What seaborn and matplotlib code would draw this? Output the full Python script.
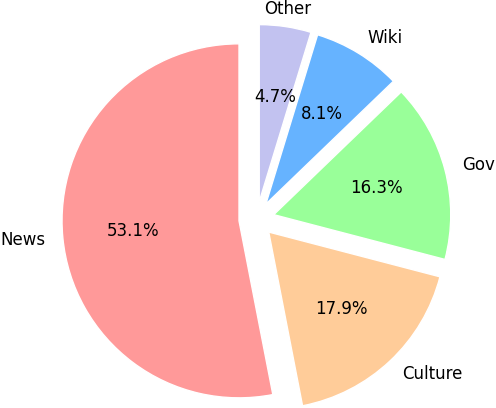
import matplotlib
matplotlib.use("Agg")
import matplotlib.pyplot as plt
import seaborn as sns

# slice data (percent of total)
categories = ["News", "Culture", "Gov", "Wiki", "Other"]
shares = [53.06, 17.87, 16.27, 8.08, 4.72]
colors = ["#ff9999", "#ffcc99", "#99ff99", "#66b3ff", "#c2c2f0"]

sns.set_style("white")

fig = plt.figure(figsize=(4.96, 4.08), dpi=100)
ax = fig.add_axes([0, 0, 1, 1])
wedges, texts, autotexts = ax.pie(shares, labels=categories, colors=colors,
                                  autopct="%1.1f%%", startangle=90,
                                  explode=[0.1] * len(shares),
                                  textprops={"color": "black", "fontsize": 12})
# top label sits centred over its slice
texts[-1].set_horizontalalignment("center")
# same scale on both axes, pie placed as in the reference
ax.set_xlim(-1.450, 1.3525)
ax.set_ylim(-1.067, 1.238)
ax.set_aspect("auto")
ax.axis("off")
plt.savefig("out.png", dpi=100)
